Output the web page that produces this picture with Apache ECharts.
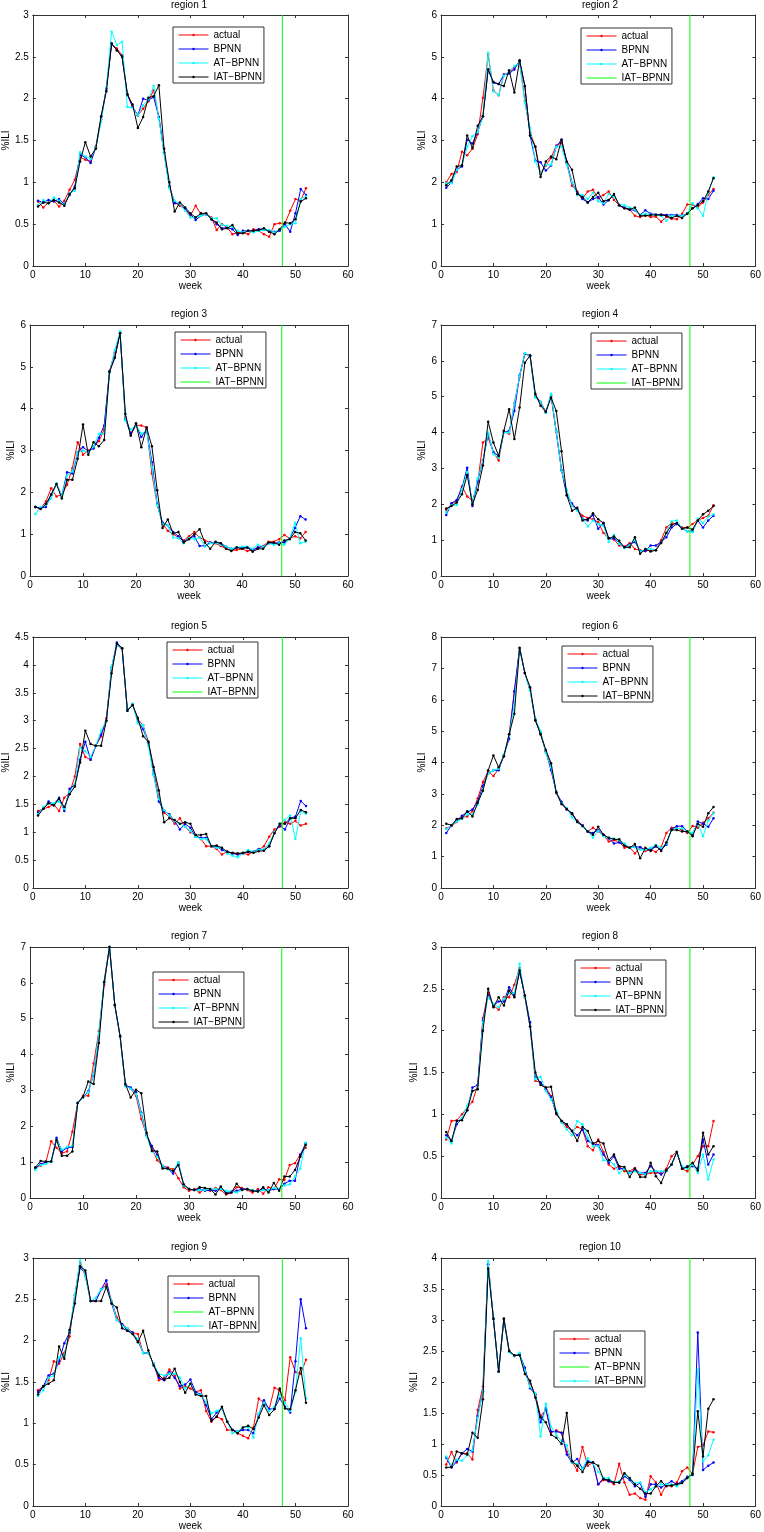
<!DOCTYPE html>
<html><head><meta charset="utf-8">
<script src="https://cdn.jsdelivr.net/npm/echarts@6/dist/echarts.min.js"></script>
<style>html,body{margin:0;padding:0;background:#fff}#c{width:764px;height:1532px}</style>
</head><body><div id="c"></div><script>
const weeks = [1,2,3,4,5,6,7,8,9,10,11,12,13,14,15,16,17,18,19,20,21,22,23,24,25,26,27,28,29,30,31,32,33,34,35,36,37,38,39,40,41,42,43,44,45,46,47,48,49,50,51,52];
const cutWeek = 47.5;
const regionTitles = ['region 1','region 2','region 3','region 4','region 5','region 6','region 7','region 8','region 9','region 10'];
const yMax = [3,6,6,7,4.5,8,7,3,3,4];
const yStep = [0.5,1,1,1,0.5,1,1,0.5,0.5,0.5];
const xTicks = {min:0, max:60, step:10};
const legendLabels = ['actual','BPNN','AT\u2212BPNN','IAT\u2212BPNN'];
// line each legend entry is attached to: 0 actual, 1 BPNN, 2 AT-BPNN, 3 IAT-BPNN, 4 vertical marker
const legendTargets = [[0,1,2,3],[0,1,2,4],[0,1,2,4],[0,1,2,4],[0,1,2,4],[0,1,2,3],[0,1,2,3],[0,1,2,3],[0,1,4,2],[0,1,4,2]];

const r1Actual=[0.77,0.70,0.76,0.78,0.71,0.78,0.91,1.03,1.30,1.27,1.25,1.43,1.78,2.12,2.65,2.60,2.52,2.05,1.90,1.80,1.88,1.97,2.10,1.78,1.36,0.95,0.76,0.72,0.68,0.60,0.72,0.62,0.62,0.58,0.43,0.50,0.46,0.38,0.40,0.40,0.38,0.44,0.42,0.38,0.35,0.50,0.51,0.51,0.66,0.80,0.78,0.93];
const r1Bpnn=[0.78,0.76,0.79,0.77,0.80,0.74,0.85,0.95,1.33,1.30,1.23,1.42,1.75,2.12,2.66,2.58,2.50,2.05,1.90,1.80,2.00,1.98,2.02,1.78,1.35,0.95,0.75,0.75,0.68,0.62,0.55,0.60,0.62,0.56,0.50,0.45,0.46,0.44,0.37,0.42,0.42,0.42,0.44,0.44,0.41,0.41,0.42,0.50,0.41,0.63,0.92,0.85];
const r1At=[0.73,0.79,0.75,0.82,0.78,0.73,0.87,0.90,1.36,1.31,1.28,1.42,1.72,2.13,2.80,2.64,2.68,1.90,1.89,1.80,1.92,1.99,2.15,1.76,1.34,0.93,0.78,0.74,0.66,0.58,0.58,0.60,0.62,0.57,0.57,0.49,0.48,0.47,0.42,0.40,0.42,0.40,0.42,0.43,0.43,0.40,0.44,0.47,0.50,0.51,0.80,0.83];
const r1Iat=[0.71,0.76,0.75,0.79,0.76,0.72,0.86,0.93,1.25,1.48,1.31,1.40,1.79,2.09,2.66,2.58,2.50,2.05,1.93,1.65,1.78,2.01,2.03,2.16,1.40,1.00,0.65,0.76,0.70,0.63,0.58,0.63,0.63,0.56,0.52,0.44,0.45,0.49,0.39,0.39,0.42,0.42,0.43,0.45,0.41,0.38,0.44,0.52,0.51,0.56,0.77,0.81];

const r2Actual=[2.00,2.20,2.25,2.73,2.65,2.80,3.15,4.02,5.05,4.20,4.08,4.58,4.62,4.75,4.88,3.95,3.20,2.85,2.20,2.40,2.58,2.88,2.95,2.45,1.92,1.78,1.62,1.78,1.82,1.62,1.70,1.78,1.58,1.45,1.38,1.35,1.20,1.17,1.22,1.17,1.18,1.06,1.17,1.13,1.12,1.25,1.47,1.47,1.40,1.52,1.70,1.84];
const r2Bpnn=[1.87,2.00,2.30,2.38,3.02,2.93,3.20,3.58,4.70,4.38,4.35,4.57,4.60,4.70,4.90,4.30,3.12,2.52,2.48,2.28,2.40,2.85,3.02,2.48,2.00,1.75,1.60,1.52,1.60,1.65,1.47,1.57,1.70,1.45,1.40,1.35,1.33,1.22,1.33,1.25,1.23,1.23,1.22,1.22,1.22,1.20,1.26,1.38,1.48,1.62,1.60,1.80];
const r2At=[1.98,1.98,2.30,2.42,2.85,3.10,3.20,3.60,5.10,4.18,4.08,4.55,4.65,4.78,4.85,3.90,3.30,2.50,2.22,2.42,2.42,2.85,2.85,2.42,2.00,1.70,1.70,1.60,1.75,1.55,1.50,1.72,1.65,1.47,1.45,1.40,1.35,1.22,1.25,1.23,1.22,1.20,1.08,1.20,1.20,1.20,1.25,1.50,1.38,1.20,1.75,2.12];
const r2Iat=[1.93,2.05,2.38,2.40,3.12,2.82,3.35,3.58,4.70,4.40,4.35,4.30,4.68,4.15,4.92,4.30,3.12,2.85,2.13,2.50,2.62,2.55,3.02,2.50,2.30,1.72,1.65,1.52,1.65,1.75,1.55,1.58,1.72,1.45,1.38,1.35,1.40,1.20,1.20,1.22,1.22,1.22,1.20,1.15,1.20,1.15,1.25,1.38,1.45,1.55,1.78,2.10];

const r3Actual=[1.65,1.62,1.78,2.10,1.90,1.95,2.18,2.58,3.20,2.90,3.00,3.10,3.22,3.50,4.90,5.35,5.80,3.80,3.40,3.60,3.60,3.55,2.45,1.70,1.25,1.08,1.00,0.92,0.85,0.95,1.05,0.92,0.85,0.80,0.78,0.72,0.65,0.62,0.62,0.65,0.60,0.62,0.68,0.72,0.82,0.82,0.88,0.98,0.90,0.95,0.90,1.05];
const r3Bpnn=[1.65,1.62,1.65,1.95,2.20,1.92,2.48,2.45,2.95,3.08,2.98,3.05,3.30,3.60,4.88,5.22,5.82,3.75,3.40,3.62,3.32,3.50,2.72,1.72,1.28,1.20,1.05,0.95,0.82,0.90,0.95,0.72,0.72,0.80,0.80,0.78,0.70,0.65,0.68,0.68,0.68,0.62,0.68,0.70,0.78,0.78,0.80,0.80,0.90,1.15,1.43,1.35];
const r3At=[1.48,1.65,1.70,1.85,2.22,1.92,2.40,2.50,2.95,3.00,2.95,3.10,3.40,3.40,4.85,5.40,5.85,3.72,3.50,3.60,3.40,3.48,2.60,1.70,1.25,1.20,0.92,0.90,0.78,0.90,0.88,0.92,0.70,0.78,0.80,0.75,0.70,0.65,0.68,0.70,0.70,0.65,0.75,0.70,0.78,0.75,0.78,0.75,0.90,1.27,0.78,0.82];
const r3Iat=[1.65,1.60,1.72,1.95,2.20,1.85,2.30,2.30,2.80,3.62,2.90,3.20,3.10,3.25,4.88,5.22,5.80,3.87,3.35,3.65,3.08,3.55,3.10,2.05,1.15,1.35,1.02,1.05,0.80,0.88,1.00,1.12,0.80,0.65,0.82,0.78,0.65,0.60,0.68,0.65,0.68,0.58,0.65,0.65,0.80,0.80,0.75,0.85,0.88,1.05,1.02,0.85];

const r4Actual=[1.85,2.00,2.10,2.50,2.22,2.10,2.60,3.72,3.85,3.45,3.22,4.02,3.97,4.82,5.55,6.20,6.12,5.05,4.85,4.58,5.02,4.00,2.95,2.32,1.98,1.85,1.68,1.62,1.58,1.50,1.20,1.05,1.02,0.85,0.82,0.92,0.75,0.72,0.70,0.72,0.72,1.00,1.35,1.48,1.45,1.35,1.35,1.45,1.55,1.62,1.68,1.97];
const r4Bpnn=[1.70,2.03,2.12,2.45,3.02,1.95,2.65,3.22,3.95,3.45,3.35,4.00,4.05,4.60,5.60,6.20,6.15,5.00,4.85,4.55,5.05,4.02,2.95,2.25,2.02,1.85,1.60,1.55,1.70,1.32,1.48,1.05,1.05,0.92,0.80,0.88,0.95,0.70,0.70,0.85,0.85,0.95,1.08,1.35,1.45,1.32,1.25,1.25,1.55,1.35,1.55,1.68];
const r4At=[1.78,1.97,1.98,2.42,2.90,2.02,2.72,3.20,4.00,3.40,3.30,4.00,4.00,4.80,5.58,6.22,6.12,4.97,4.85,4.55,5.08,4.02,2.93,2.40,1.95,1.82,1.58,1.38,1.55,1.45,1.40,0.95,1.15,0.90,0.78,0.85,1.00,0.68,0.75,0.75,0.72,0.92,1.22,1.52,1.55,1.32,1.25,1.22,1.60,1.48,1.65,1.72];
const r4Iat=[1.88,1.95,2.05,2.28,2.82,2.00,2.40,3.08,4.30,3.72,3.35,4.05,4.65,3.82,4.70,5.95,6.15,5.08,4.75,4.58,4.98,4.60,3.48,2.25,1.82,1.90,1.55,1.58,1.75,1.58,1.48,1.05,1.10,0.98,0.80,0.80,1.08,0.62,0.75,0.68,0.72,0.92,1.20,1.42,1.48,1.32,1.35,1.30,1.55,1.72,1.82,1.95];

const r5Actual=[1.38,1.42,1.45,1.50,1.38,1.62,1.70,2.00,2.58,2.35,2.30,2.55,2.72,3.05,3.90,4.35,4.30,3.20,3.28,3.02,2.92,2.62,2.10,1.62,1.35,1.28,1.15,1.25,1.10,1.00,0.95,0.88,0.75,0.75,0.70,0.60,0.65,0.62,0.62,0.62,0.60,0.65,0.68,0.75,0.92,1.05,1.10,1.18,1.15,1.20,1.12,1.15];
const r5Bpnn=[1.35,1.42,1.55,1.50,1.62,1.38,1.78,1.85,2.30,2.62,2.30,2.55,2.75,3.00,3.95,4.40,4.30,3.18,3.30,2.98,2.85,2.60,2.05,1.55,1.38,1.32,1.20,1.05,1.15,1.08,0.92,0.90,0.90,0.75,0.75,0.68,0.65,0.62,0.60,0.62,0.65,0.65,0.70,0.68,0.75,1.00,1.12,1.05,1.25,1.28,1.56,1.47];
const r5At=[1.32,1.45,1.52,1.52,1.55,1.42,1.72,1.85,2.52,2.45,2.35,2.55,2.82,3.00,3.97,4.35,4.30,3.18,3.30,2.95,2.92,2.55,2.02,1.60,1.40,1.30,1.20,1.15,1.10,1.02,0.92,0.88,0.88,0.75,0.72,0.72,0.62,0.58,0.55,0.62,0.68,0.65,0.68,0.70,0.80,1.00,1.15,1.22,1.30,0.88,1.38,1.33];
const r5Iat=[1.30,1.42,1.52,1.48,1.60,1.45,1.68,1.82,2.25,2.82,2.58,2.55,2.55,3.00,3.85,4.38,4.30,3.18,3.28,3.05,2.72,2.62,2.17,1.75,1.18,1.25,1.22,1.15,1.18,1.15,0.95,0.95,0.97,0.75,0.76,0.72,0.65,0.63,0.62,0.63,0.65,0.63,0.66,0.67,0.75,0.98,1.15,1.15,1.25,1.25,1.40,1.36];

const r6Actual=[1.90,1.98,2.10,2.25,2.28,2.45,2.85,3.38,3.72,3.57,3.80,4.20,4.90,6.25,7.65,6.85,6.35,5.35,4.90,4.35,3.90,3.02,2.68,2.50,2.35,2.15,2.00,1.80,1.92,1.80,1.68,1.48,1.52,1.48,1.28,1.30,1.10,1.30,1.18,1.22,1.15,1.30,1.75,1.92,1.92,1.85,1.75,1.98,1.92,2.08,2.22,2.40];
const r6Bpnn=[1.75,2.00,2.15,2.30,2.42,2.50,2.75,3.25,3.65,3.75,3.75,4.25,4.75,6.28,7.65,6.85,6.30,5.35,4.95,4.35,3.75,3.05,2.75,2.50,2.38,2.12,2.00,1.80,1.75,1.85,1.70,1.58,1.42,1.45,1.38,1.28,1.32,1.30,1.22,1.25,1.32,1.22,1.38,1.88,1.97,1.97,1.80,1.70,2.12,2.05,1.95,2.22];
const r6At=[1.88,2.00,2.12,2.20,2.35,2.35,2.65,3.15,3.65,3.75,3.80,4.25,4.85,5.85,7.65,6.85,6.28,5.40,5.00,4.30,3.85,3.05,2.70,2.55,2.25,2.10,1.98,1.82,1.60,1.82,1.65,1.60,1.58,1.52,1.42,1.28,1.30,1.22,1.22,1.28,1.38,1.28,1.42,1.85,1.90,1.90,1.80,1.75,2.05,1.65,2.15,2.38];
const r6Iat=[2.05,2.00,2.20,2.22,2.45,2.28,2.72,3.10,3.75,4.22,3.85,4.20,4.90,5.55,7.65,6.85,6.40,5.35,4.90,4.40,3.98,3.05,2.68,2.52,2.38,2.10,1.98,1.80,1.70,1.95,1.70,1.60,1.55,1.55,1.35,1.28,1.40,0.95,1.28,1.18,1.35,1.18,1.45,1.85,1.85,1.80,1.80,1.65,2.05,1.95,2.38,2.58];

const r7Actual=[0.85,0.90,1.00,1.58,1.40,1.25,1.30,1.85,2.65,2.85,2.85,3.75,4.65,5.95,7.00,5.38,4.50,3.15,3.05,2.85,2.20,1.75,1.40,1.05,0.90,0.85,0.80,0.55,0.30,0.20,0.25,0.15,0.25,0.20,0.28,0.22,0.10,0.15,0.30,0.28,0.22,0.15,0.25,0.12,0.30,0.25,0.52,0.50,0.92,0.97,1.22,1.40];
const r7Bpnn=[0.82,0.95,1.00,1.02,1.68,1.30,1.40,1.42,2.65,2.80,2.98,3.42,4.50,6.05,7.00,5.38,4.50,3.15,3.08,2.95,2.38,1.75,1.45,1.20,0.88,0.82,0.68,0.98,0.35,0.25,0.22,0.25,0.20,0.22,0.20,0.28,0.15,0.18,0.20,0.25,0.25,0.20,0.20,0.25,0.20,0.25,0.25,0.40,0.48,0.48,1.20,1.52];
const r7At=[0.78,0.92,0.95,1.02,1.62,1.35,1.42,1.45,2.65,2.80,2.95,3.45,4.60,6.05,7.00,5.38,4.50,3.12,3.05,2.90,2.35,1.72,1.30,1.15,0.90,0.80,0.75,1.00,0.35,0.25,0.22,0.22,0.22,0.25,0.25,0.25,0.20,0.18,0.15,0.22,0.25,0.22,0.18,0.22,0.22,0.28,0.25,0.35,0.38,0.60,0.82,1.55];
const r7Iat=[0.85,1.03,1.02,1.02,1.62,1.18,1.18,1.30,2.65,2.82,3.25,3.18,4.32,6.02,7.00,5.38,4.52,3.18,2.80,3.02,2.92,1.82,1.32,1.30,0.82,0.82,0.75,0.92,0.38,0.25,0.22,0.30,0.28,0.25,0.10,0.32,0.12,0.15,0.40,0.22,0.25,0.20,0.18,0.30,0.15,0.42,0.20,0.60,0.60,0.78,1.15,1.48];

const r8Actual=[0.70,0.92,0.93,1.00,1.08,1.15,1.35,2.15,2.45,2.30,2.25,2.40,2.40,2.55,2.75,2.40,2.05,1.40,1.38,1.32,1.22,1.00,0.92,0.85,0.80,0.85,0.82,0.62,0.57,0.70,0.55,0.40,0.35,0.38,0.32,0.32,0.36,0.28,0.28,0.30,0.30,0.30,0.35,0.50,0.55,0.35,0.32,0.40,0.50,0.62,0.62,0.92];
const r8Bpnn=[0.75,0.68,0.88,0.95,1.05,1.32,1.35,2.12,2.42,2.30,2.35,2.35,2.52,2.42,2.70,2.42,2.10,1.45,1.38,1.30,1.20,1.02,0.92,0.88,0.80,0.75,0.82,0.68,0.65,0.63,0.52,0.42,0.50,0.35,0.35,0.30,0.34,0.30,0.30,0.38,0.32,0.28,0.33,0.40,0.55,0.35,0.38,0.38,0.35,0.70,0.40,0.52];
const r8At=[0.72,0.65,0.92,0.95,1.10,1.28,1.30,2.10,2.40,2.32,2.28,2.38,2.45,2.45,2.80,2.40,2.05,1.42,1.45,1.28,1.18,1.05,0.90,0.82,0.75,0.92,0.88,0.72,0.62,0.62,0.45,0.45,0.40,0.30,0.35,0.30,0.32,0.30,0.28,0.32,0.32,0.32,0.32,0.40,0.55,0.38,0.35,0.40,0.30,0.52,0.22,0.46];
const r8Iat=[0.79,0.68,0.92,0.93,1.05,1.28,1.30,2.00,2.50,2.28,2.40,2.30,2.48,2.40,2.72,2.42,2.05,1.50,1.35,1.32,1.33,1.01,0.92,0.88,0.80,0.68,0.85,0.80,0.65,0.68,0.65,0.45,0.52,0.38,0.37,0.25,0.35,0.25,0.25,0.42,0.26,0.18,0.33,0.40,0.55,0.35,0.37,0.42,0.33,0.78,0.52,0.62];

const r9Actual=[1.40,1.45,1.52,1.75,1.72,1.85,2.05,2.55,2.95,2.78,2.48,2.48,2.62,2.68,2.48,2.28,2.20,2.15,2.10,2.08,1.85,1.85,1.72,1.52,1.55,1.65,1.58,1.42,1.45,1.42,1.38,1.40,1.15,1.02,1.08,1.05,0.92,0.92,0.88,0.85,0.82,0.95,1.30,1.25,1.17,1.43,1.40,1.28,1.80,1.62,1.60,1.77];
const r9Bpnn=[1.38,1.45,1.58,1.60,1.75,1.97,2.10,2.52,2.88,2.82,2.48,2.48,2.62,2.73,2.45,2.25,2.20,2.12,2.10,2.00,1.85,1.85,1.72,1.55,1.52,1.62,1.55,1.45,1.47,1.53,1.38,1.35,1.22,1.05,1.13,1.18,1.02,0.92,0.90,0.92,0.92,0.88,1.10,1.28,1.17,1.18,1.30,1.20,1.13,1.75,2.50,2.15];
const r9At=[1.33,1.40,1.55,1.58,1.80,1.82,2.12,2.55,2.97,2.78,2.48,2.52,2.62,2.65,2.48,2.25,2.18,2.15,2.08,2.02,1.85,1.85,1.72,1.60,1.58,1.60,1.60,1.55,1.42,1.48,1.35,1.35,1.25,1.12,1.15,1.18,1.02,0.88,0.90,0.95,0.95,0.83,1.12,1.25,1.15,1.20,1.35,1.25,1.15,1.38,2.03,1.30];
const r9Iat=[1.35,1.45,1.48,1.52,1.93,1.78,2.13,2.45,2.90,2.85,2.48,2.48,2.48,2.65,2.45,2.40,2.15,2.12,2.08,1.98,2.12,1.88,1.70,1.58,1.53,1.55,1.66,1.50,1.37,1.48,1.35,1.33,1.33,1.03,1.08,1.20,1.02,0.92,0.88,0.95,0.97,0.93,1.07,1.22,1.10,1.17,1.42,1.18,1.17,1.40,1.67,1.25];

const r10Actual=[0.67,0.87,0.70,0.85,0.85,0.75,1.55,1.93,3.90,3.02,2.17,3.02,2.50,2.42,2.45,2.18,1.98,1.80,1.45,1.55,1.18,1.22,1.18,0.88,0.72,0.57,0.95,0.65,0.70,0.35,0.42,0.40,0.35,0.68,0.38,0.18,0.20,0.13,0.10,0.48,0.38,0.18,0.35,0.32,0.38,0.56,0.62,0.52,0.95,0.98,1.20,1.19];
const r10Bpnn=[0.78,0.62,0.72,0.85,0.92,0.88,1.45,1.85,3.90,3.02,2.17,3.02,2.50,2.42,2.45,2.23,1.90,1.80,1.35,1.58,1.20,1.20,1.18,0.83,0.70,0.76,0.60,0.72,0.70,0.35,0.45,0.40,0.38,0.38,0.48,0.42,0.32,0.37,0.15,0.35,0.35,0.30,0.35,0.40,0.35,0.40,0.47,0.50,2.80,0.58,0.65,0.70];
const r10At=[0.80,0.65,0.75,0.73,0.82,0.90,1.42,1.85,3.95,3.02,2.17,3.02,2.48,2.42,2.47,2.18,1.92,1.82,1.12,1.65,1.28,1.15,1.05,0.98,0.70,0.68,0.60,0.77,0.68,0.55,0.45,0.45,0.38,0.40,0.50,0.45,0.37,0.38,0.22,0.27,0.32,0.35,0.35,0.35,0.32,0.37,0.45,0.52,2.20,0.72,0.82,1.07];
const r10Iat=[0.62,0.63,0.88,0.85,0.83,1.18,1.10,1.72,3.83,3.02,2.17,3.02,2.50,2.43,2.43,2.13,2.02,1.75,1.43,1.35,1.15,1.10,1.00,1.50,0.72,0.65,0.55,0.70,0.70,0.65,0.43,0.42,0.38,0.38,0.53,0.45,0.35,0.28,0.20,0.20,0.32,0.40,0.32,0.33,0.35,0.37,0.45,0.52,1.53,0.80,1.57,1.72];

const panels = [
  [r1Actual,r1Bpnn,r1At,r1Iat],[r2Actual,r2Bpnn,r2At,r2Iat],[r3Actual,r3Bpnn,r3At,r3Iat],
  [r4Actual,r4Bpnn,r4At,r4Iat],[r5Actual,r5Bpnn,r5At,r5Iat],[r6Actual,r6Bpnn,r6At,r6Iat],
  [r7Actual,r7Bpnn,r7At,r7Iat],[r8Actual,r8Bpnn,r8At,r8Iat],[r9Actual,r9Bpnn,r9At,r9Iat],
  [r10Actual,r10Bpnn,r10At,r10Iat]
];

// ---- layout / styles ----
const FONT = '"Liberation Sans", Arial, Helvetica, sans-serif';
const lineColors = ['#ff0000','#0000ff','#00ffff','#000000'];
const markerColor = '#00ff00';
const colLeft = [30, 441];
const plotW = 318;
const rowTop = [15, 325, 637, 947, 1258];
const plotH = 251;
const legendPos = [[173,27],[581,28],[175,332],[591,333],[167,642],[562,646],[153,972],[575,960],[168,1276],[554,1331]];
const axisCol = '#333';

const grid=[], xAxis=[], yAxis=[], series=[], title=[], legend=[];
panels.forEach((vals, p) => {
  const col = p % 2, row = Math.floor(p / 2);
  const L = colLeft[col], T = rowTop[row];
  grid.push({left: L, top: T, width: plotW, height: plotH, containLabel: false});
  title.push({text: regionTitles[p], left: L + plotW/2, top: Math.max(0, T - 16), textAlign: 'center', padding: 0,
    textStyle: {fontFamily: FONT, fontSize: 10, fontWeight: 'normal', color: '#000'}});
  const tickStyle = {show: true, inside: true, length: 3, lineStyle: {color: axisCol, width: 1}};
  xAxis.push({type: 'value', gridIndex: p, min: xTicks.min, max: xTicks.max, interval: xTicks.step,
    name: 'week', nameLocation: 'middle', nameGap: 15,
    nameTextStyle: {fontFamily: FONT, fontSize: 10, color: '#000'},
    axisLine: {show: true, onZero: false, lineStyle: {color: axisCol, width: 1}},
    axisTick: tickStyle, splitLine: {show: false},
    axisLabel: {fontFamily: FONT, fontSize: 10, color: '#000', margin: 4}});
  xAxis.push({type: 'value', gridIndex: p, position: 'top', min: xTicks.min, max: xTicks.max, interval: xTicks.step,
    axisLine: {show: true, onZero: false, lineStyle: {color: axisCol, width: 1}},
    axisTick: tickStyle, splitLine: {show: false}, axisLabel: {show: false}});
  const dec = yStep[p] < 1;
  yAxis.push({type: 'value', gridIndex: p, min: 0, max: yMax[p], interval: yStep[p],
    name: '%ILI', nameLocation: 'middle', nameRotate: 90, nameGap: dec ? 20 : 10,
    nameTextStyle: {fontFamily: FONT, fontSize: 10, color: '#000'},
    axisLine: {show: true, onZero: false, lineStyle: {color: axisCol, width: 1}},
    axisTick: tickStyle, splitLine: {show: false},
    axisLabel: {fontFamily: FONT, fontSize: 10, color: '#000', margin: 4}});
  yAxis.push({type: 'value', gridIndex: p, position: 'right', min: 0, max: yMax[p], interval: yStep[p],
    axisLine: {show: true, onZero: false, lineStyle: {color: axisCol, width: 1}},
    axisTick: tickStyle, splitLine: {show: false}, axisLabel: {show: false}});

  const targets = legendTargets[p];
  const nameOf = k => { const i = targets.indexOf(k); return (i >= 0 ? legendLabels[i] : '_s' + k) + '|' + p; };
  vals.forEach((v, k) => {
    series.push({type: 'line', name: nameOf(k), xAxisIndex: 2*p, yAxisIndex: 2*p,
      data: weeks.map((w, j) => [w, v[j]]),
      symbol: 'circle', symbolSize: 2.5, showSymbol: true, animation: false, silent: true,
      itemStyle: {color: lineColors[k]}, lineStyle: {color: lineColors[k], width: 1}, z: 2 + k});
  });
  series.push({type: 'line', name: nameOf(4), xAxisIndex: 2*p, yAxisIndex: 2*p,
    data: [[cutWeek, 0], [cutWeek, yMax[p]]], symbol: 'none', animation: false, silent: true,
    itemStyle: {color: markerColor}, lineStyle: {color: markerColor, width: 1}, z: 7});

  legend.push({left: legendPos[p][0], top: legendPos[p][1], orient: 'vertical', selectedMode: false,
    data: targets.map((k, i) => k === 4
      ? {name: legendLabels[i] + '|' + p, itemStyle: {opacity: 0}}
      : legendLabels[i] + '|' + p),
    formatter: n => n.split('|')[0],
    itemWidth: 30, itemHeight: 3, itemGap: 4, padding: [3, 2, 1, 5],
    lineStyle: {width: 1}, itemStyle: {borderWidth: 0},
    borderColor: '#333', borderWidth: 1, backgroundColor: '#fff', borderRadius: 0,
    textStyle: {fontFamily: FONT, fontSize: 10, color: '#000', padding: [0,0,0,0]}});
});

const chart = echarts.init(document.getElementById('c'), null, {renderer: 'canvas'});
chart.setOption({animation: false, backgroundColor: '#fff', title, legend, grid, xAxis, yAxis, series});
</script></body></html>
